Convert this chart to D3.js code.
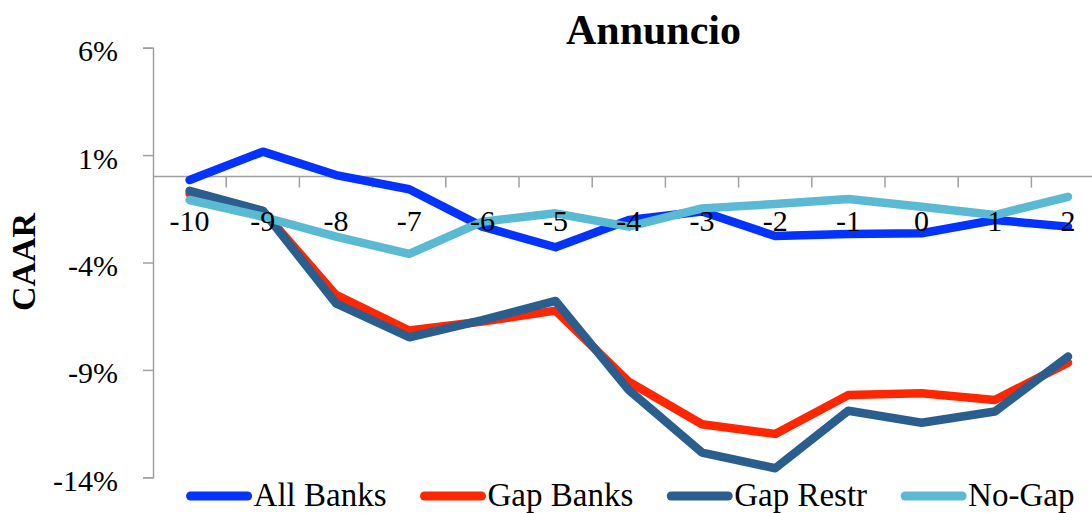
<!DOCTYPE html>
<html>
<head>
<meta charset="utf-8">
<script src="https://cdn.jsdelivr.net/npm/d3@7"></script>
<style>
  html, body { margin: 0; padding: 0; background: #fff; }
  svg { display: block; }
</style>
</head>
<body>
<svg id="chart" width="1092" height="513"></svg>
<script>
const categories = ["-10","-9","-8","-7","-6","-5","-4","-3","-2","-1","0","1","2"];
const allBanks  = [-0.16, 1.16, 0.07, -0.59, -2.33, -3.29, -2.02, -1.63, -2.77, -2.67, -2.64, -2.02, -2.33];
const gapBanks  = [-0.80, -1.60, -5.51, -7.17, -6.75, -6.24, -9.55, -11.53, -11.98, -10.17, -10.09, -10.40, -8.66];
const gapRestr  = [-0.66, -1.59, -5.90, -7.48, -6.68, -5.79, -9.94, -12.85, -13.58, -10.90, -11.46, -10.94, -8.38];
const noGap     = [-1.09, -1.87, -2.80, -3.60, -2.10, -1.71, -2.33, -1.48, -1.28, -1.04, -1.40, -1.79, -0.94];
const seriesNames = ["All Banks", "Gap Banks", "Gap Restr", "No-Gap"];
const seriesColors = ["#0433FF", "#FF2600", "#295E8F", "#5BBAD3"];
const yTicks = [6, 1, -4, -9, -14];
const title = "Annuncio";
const yTitle = "CAAR";

const series = [allBanks, gapBanks, gapRestr, noGap].map((vals, i) => ({
  name: seriesNames[i], color: seriesColors[i], values: vals
}));

const svg = d3.select("#chart");
const fontFam = "'Liberation Serif', 'Times New Roman', serif";
const axisColor = "#A0A0A0";

const left = 153, plotTop = 47.7, plotBottom = 477.3;
const band = 73.2;
const x = d3.scaleBand().domain(categories).range([left, left + band * categories.length]).padding(0);
const y = d3.scaleLinear().domain([-14, 6]).range([plotBottom, plotTop]);
const cx = c => x(c) + x.bandwidth() / 2;

// Y axis
const yAxis = d3.axisLeft(y).tickValues(yTicks).tickSize(10).tickFormat(d => d + "%");
const gy = svg.append("g").attr("transform", `translate(${left},0)`).call(yAxis);
gy.select(".domain").attr("stroke", axisColor).attr("stroke-width", 1.5);
gy.selectAll(".tick line").attr("stroke", axisColor).attr("stroke-width", 1.5);
gy.selectAll(".tick text")
  .attr("x", -35).attr("dy", null).attr("y", 13)
  .attr("fill", "#000").style("font-family", fontFam).style("font-size", "30px");

// X axis at zero (ticks at band boundaries)
const y0 = y(0);
svg.append("line").attr("x1", left).attr("x2", 1092).attr("y1", y0).attr("y2", y0)
  .attr("stroke", axisColor).attr("stroke-width", 1.5);
const boundaries = categories.map(c => x(c)).slice(1);
svg.append("g").selectAll("line").data(boundaries).join("line")
  .attr("x1", d => d).attr("x2", d => d).attr("y1", y0).attr("y2", y0 + 11)
  .attr("stroke", axisColor).attr("stroke-width", 1.5);

// Lines
const line = d3.line().x((d, i) => cx(categories[i])).y(d => y(d));
svg.append("g").selectAll("path").data(series).join("path")
  .attr("d", d => line(d.values))
  .attr("fill", "none").attr("stroke", d => d.color)
  .attr("stroke-width", 8.5).attr("stroke-linejoin", "round").attr("stroke-linecap", "round");

// X tick labels (drawn on top, like the reference)
svg.append("g").selectAll("text").data(categories).join("text")
  .attr("x", d => cx(d)).attr("y", 231).attr("text-anchor", "middle")
  .style("font-family", fontFam).style("font-size", "30px").attr("fill", "#000")
  .text(d => d);

// Title
svg.append("text").attr("x", 653.5).attr("y", 44).attr("text-anchor", "middle")
  .style("font-family", fontFam).style("font-size", "42px").style("font-weight", "bold")
  .text(title);

// Y title
svg.append("text").attr("transform", "translate(35,262) rotate(-90)").attr("text-anchor", "middle")
  .style("font-family", fontFam).style("font-size", "34px").style("font-weight", "bold")
  .text(yTitle);

// Legend
const legend = svg.append("g");
const lg = legend.selectAll("g").data(series).join("g");
lg.append("line").attr("x1", 0).attr("x2", 57).attr("y1", 0).attr("y2", 0)
  .attr("stroke", d => d.color).attr("stroke-width", 9).attr("stroke-linecap", "round");
lg.append("text").attr("x", 63).attr("y", 10)
  .style("font-family", fontFam).style("font-size", "33px").attr("fill", "#000")
  .text(d => d.name);
const widths = [];
lg.each(function() {
  widths.push(d3.select(this).select("text").node().getComputedTextLength());
});
const totalW = widths.reduce((a, w) => a + 63 + w, 0) + 38 * (widths.length - 1);
let start = 632.5 - totalW / 2;
lg.each(function(d, i) {
  d3.select(this).attr("transform", `translate(${start},496)`);
  start += 63 + widths[i] + 38;
});
</script>
</body>
</html>
